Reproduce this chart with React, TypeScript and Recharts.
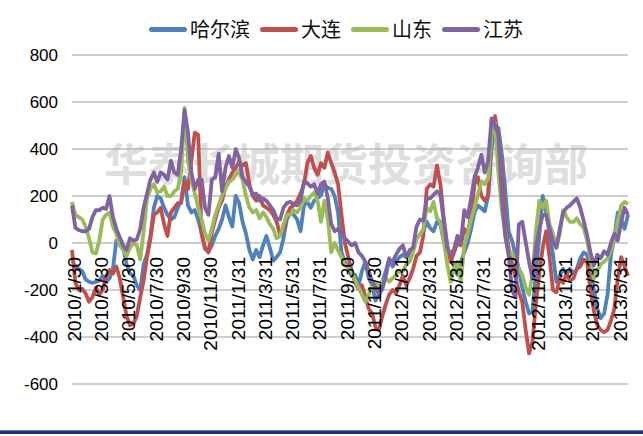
import React from 'react';
import { LineChart, Line, XAxis, YAxis, CartesianGrid } from 'recharts';

// tick labels every 8 points (about one point per week)
const dateLabels = [
  '2010/1/30', '2010/3/30', '2010/5/30', '2010/7/30', '2010/9/30', '2010/11/30',
  '2011/1/31', '2011/3/31', '2011/5/31', '2011/7/31', '2011/9/30', '2011/11/30',
  '2012/1/31', '2012/3/31', '2012/5/31', '2012/7/31', '2012/9/30', '2012/11/30',
  '2013/1/31', '2013/3/31', '2013/5/31',
];
const POINTS_PER_LABEL = 8;
const yTicks = [-600, -400, -200, 0, 200, 400, 600, 800];

const harbin = [
  -100, -95, -110, -120, -155, -165, -170, -165, -160, -140, -165, -150, -110, 10, 15, -20, -90, -130, -140, -180,
  -200, -90, -50, 30, 150, 200, 190, 150, 120, 100, 110, 150, 180,
  280, 160, 130, 140, 100, 40, -25, -36, -10, 30, 60, 100, 160, 110, 70, 200, 170, 90, 40, -30,
  -70, -30, -60, -10, 30, -20, -75, -60, -40, 20, 100, 130,
  120, 100, 50, 160, 175, 150, 180, 190, 205, 250, 235, 230, 200, 130, -40, -80, -110, -140, -135, -180,
  -120, -80, -150, -180, -245, -220, -165, -120, -65, -100, -80, -60, -50,
  -60, -50, -20, 20, 35, 50, 90, 63, 50, 90, 80, 5, -40, -65, -95, -135, -80, -40, 0, 60,
  130, 160, 148, 135, 200, 400, 490, 490, 380, 230, 50, 10,
  -50, -110, -190, -250, -300, -290, -130, 30, 200, 130, 40, -50, -165, -140, -110, -130, -110, -130, -110, -65,
  -40, -50, -110, -200, -280, -320, -300, -220, -50, 20, 130, 100, 60, 120,
];

const dalian = [
  -30, -170, -200, -195, -215, -250, -230, -190, -220, -200, -140, -115, -130, -100, -150, -230, -310, -350, -345, -310,
  -230, -160, -60, 20, 120, 130, 150, 80, 30, 130, 150, 170, 170,
  260, 230, 350, 470, 460, 40, -20, -40, 45, 100, 150, 180, 240, 270, 300, 320, 346, 330, 340, 250,
  200, 180, 200, 160, 150, 140, 120, 90, 35, 60, 120, 150,
  160, 180, 210, 250, 340, 370, 320, 290, 340, 320, 385, 340, 300, 250, 120, 0, -60, -120, -170, -195,
  -180, -230, -280, -300, -360, -370, -310, -260, -220, -200, -215, -180, -140,
  -180, -150, -110, -55, -40, 30, 230, 250, 240, 330, 250, 105, -8, -80, -40, 0, -10, 60, 40, 120,
  250, 280, 200, 180, 200, 480, 540, 450, 300, 80, -20, -90,
  -140, -210, -250, -370, -470, -420, -260, -130, -20, 50, -60, -200, -210, -150, -170, -130, -160, -150, -110, -100,
  -70, -80, -200, -290, -350, -370, -380, -370, -330, -280, -150, -60, -100, -140,
];

const shandong = [
  175, 120, 110, 100, 70, 20, -40, -45, 10, 100, 120, 130, 70, 40, -10, -30, -55, -20, 0, -10,
  -70, 50, 190, 230, 250, 215, 220, 240, 200, 200, 220, 230, 300,
  575, 350, 270, 210, 150, 100, 40, 10, 60, 120, 160, 205, 230, 260, 270, 290, 310, 270, 200, 150,
  130, 140, 105, 130, 110, 80, 60, 20, 30, 80, 120, 120,
  140, 130, 150, 190, 180, 200, 215, 180, 90, 180, 100, -40, 0, -30, -60, -95, -105, -120, -160, -190,
  -220, -250, -220, -180, -170, -190, -165, -150, -165, -150, -135, -120, -120,
  -90, -80, -40, 20, 35, 60, 150, 135, 175, 105, 91, 10, -90, -165, -110, -80, -165, -10, 40, 100,
  150, 205, 260, 250, 275, 460, 510, 300, 140, 40, -50, -40,
  -80, -110, -135, -190, -220, -130, 50, 180, 150, 180, 80, 40, -20, 40, 140, 110, 90, 90, 105, 80,
  65, 10, -65, -150, -120, -90, -80, -65, -35, 20, 90, 160, 175, 165,
];

const jiangsu = [
  160, 65, 55, 50, 50, 60, 110, 140, 140, 150, 145, 200, 110, 60, 25, -10, -30, 20, 10, 15,
  60, 150, 210, 270, 300, 260, 300, 290, 270, 350, 300, 290, 400,
  565, 470, 300, 230, 270, 270, 150, 120, 270, 280, 380, 220, 320, 370, 320, 400, 360, 280, 260, 240,
  205, 210, 180, 190, 180, 160, 140, 105, 100, 150, 170, 175,
  165, 160, 180, 262, 255, 240, 250, 210, 250, 262, 190, 80, 50, 60, 40, 20, 5, -10, 0, -40,
  -55, -80, -120, -165, -190, -220, -195, -140, -70, -80, -50, -25, -10,
  -60, -30, -20, 70, 100, 95, 190, 190, 205, 220, 205, 90, -20, -50, -25, 30, 0, 140, 110, 190,
  280, 320, 375, 300, 350, 530, 500, 460, 200, 30, -50, -200,
  -230, 80, 90, 5, -80, -150, -20, 60, 120, 120, 60, 5, -20, 60, 130, 150, 160, 175, 190, 150,
  95, 35, -40, -95, -50, -65, -35, -50, 0, 40, 10, 90, 150, 120,
];

const seriesList = [
  { key: 'harbin', name: '哈尔滨', color: '#4F81BD' },
  { key: 'dalian', name: '大连', color: '#C0504D' },
  { key: 'shandong', name: '山东', color: '#9BBB59' },
  { key: 'jiangsu', name: '江苏', color: '#8064A2' },
];

const data = harbin.map((v, i) => ({
  i,
  harbin: v,
  dalian: dalian[i],
  shandong: shandong[i],
  jiangsu: jiangsu[i],
}));

const W = 643;
const H = 436;
const MARGIN = { top: 55, right: 15, bottom: 42, left: 0 };
const X_AXIS_H = 10;
const Y_MIN = -600;
const Y_MAX = 800;
const PLOT_H = H - MARGIN.top - MARGIN.bottom - X_AXIS_H;
// category labels hang below the zero line, as in Excel
const zeroY = MARGIN.top + (PLOT_H * Y_MAX) / (Y_MAX - Y_MIN);

const xTicks = dateLabels.map((_, k) => k * POINTS_PER_LABEL);
const lastIndex = data.length - 1;

const renderDateTick = (props: any) => {
  const { x, payload } = props;
  const label = dateLabels[Math.round(payload.value / POINTS_PER_LABEL)];
  return (
    <g transform={`translate(${x + 2},${zeroY + 14})`}>
      <text
        transform="rotate(-90)"
        textAnchor="end"
        dy="0.36em"
        fill="#000"
        fontSize={19}
        fontFamily="'Liberation Sans', Arial, sans-serif"
      >
        {label}
      </text>
    </g>
  );
};

export default function App() {
  return (
    <div style={{ position: 'absolute', left: 0, top: 0, width: W, height: H, background: '#fff', overflow: 'hidden' }}>
      <div
        style={{
          position: 'absolute',
          left: 104,
          top: 139,
          fontFamily: "'Noto Sans CJK SC', sans-serif",
          fontWeight: 700,
          fontSize: 44,
          lineHeight: '46px',
          color: '#DEDEDE',
          whiteSpace: 'nowrap',
        }}
      >
        华泰长城期货投资咨询部
      </div>

      <div
        style={{
          position: 'absolute',
          left: 149,
          top: 15,
          display: 'flex',
          alignItems: 'center',
          fontFamily: "'Noto Sans CJK SC', sans-serif",
          fontSize: 20,
          lineHeight: '28px',
          color: '#111',
        }}
      >
        {seriesList.map((s) => (
          <div key={s.key} style={{ display: 'flex', alignItems: 'center', marginRight: 10 }}>
            <span
              style={{ display: 'inline-block', width: 38, height: 5, borderRadius: 3, background: s.color, marginRight: 3 }}
            />
            <span>{s.name}</span>
          </div>
        ))}
      </div>

      <div style={{ position: 'absolute', left: 0, top: 0 }}>
        <LineChart width={W} height={H} data={data} margin={MARGIN}>
          <CartesianGrid horizontal vertical={false} stroke="#9E9E9E" strokeWidth={1.2} />
          <XAxis
            type="number"
            dataKey="i"
            domain={[0, lastIndex]}
            ticks={xTicks}
            interval={0}
            height={X_AXIS_H}
            axisLine={false}
            tickLine={false}
            tick={renderDateTick}
          />
          <YAxis
            type="number"
            domain={[Y_MIN, Y_MAX]}
            ticks={yTicks}
            width={72}
            axisLine={false}
            tickLine={false}
            tickSize={0}
            tickMargin={14}
            tick={{ fill: '#000', fontSize: 17, fontFamily: "'Liberation Sans', Arial, sans-serif" }}
          />
          {seriesList.map((s) => (
            <Line
              key={s.key}
              type="linear"
              dataKey={s.key}
              name={s.name}
              stroke={s.color}
              strokeWidth={3.8}
              strokeLinejoin="round"
              dot={false}
              isAnimationActive={false}
            />
          ))}
        </LineChart>
      </div>

      <div
        style={{
          position: 'absolute',
          left: 0,
          top: 430,
          width: W,
          height: 4,
          background: 'linear-gradient(#8E93C6, #1B2A88 40%, #1B2A88)',
        }}
      />
    </div>
  );
}
